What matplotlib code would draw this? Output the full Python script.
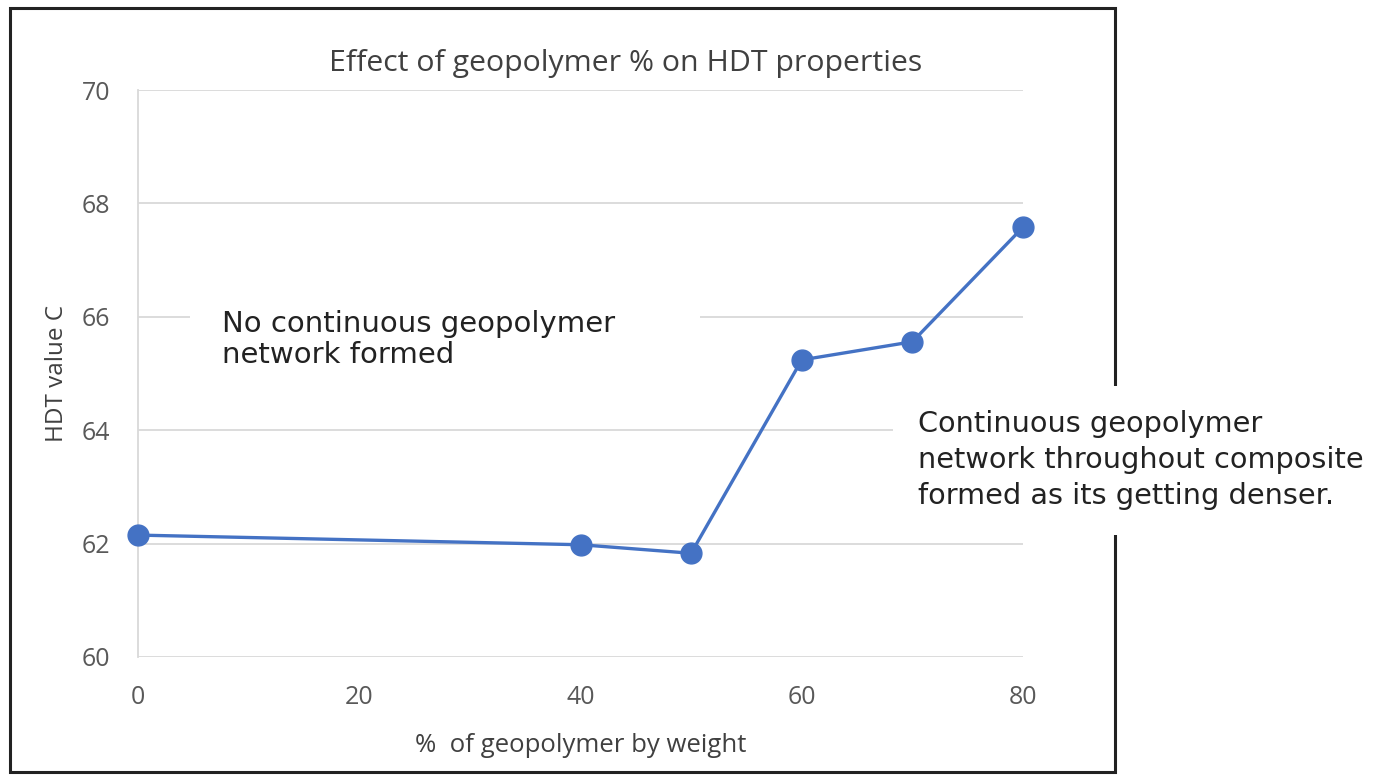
import matplotlib
matplotlib.use("Agg")
import matplotlib.pyplot as plt
from matplotlib.patches import Rectangle

# data
geopolymer_pct = [0, 40, 50, 60, 70, 80]
hdt_value = [62.15, 61.98, 61.83, 65.24, 65.56, 67.58]
x_ticks = [0, 20, 40, 60, 80]
y_ticks = [60, 62, 64, 66, 68, 70]

title = "Effect of geopolymer % on HDT properties"
x_label = "%  of geopolymer by weight"
y_label = "HDT value C"
note_left = "No continuous geopolymer\nnetwork formed"
note_right = ("Continuous geopolymer\nnetwork throughout composite\n"
              "formed as its getting denser.")

BLUE = "#4472C4"
GRID = "#D9D9D9"
TXT = "#595959"
UI_FONT = "Open Sans"
NOTE_FONT = "DejaVu Sans"

fig = plt.figure(figsize=(13.74, 7.79), dpi=100)
W, H = 1374, 779
ax = fig.add_axes([138 / W, 1 - 657 / H, (1023 - 138) / W, (657 - 90) / H])

ax.plot(geopolymer_pct, hdt_value, color=BLUE, lw=2.4, marker="o",
        markersize=15, zorder=3, clip_on=False)

ax.set_xlim(0, 80)
ax.set_ylim(60, 70)
ax.set_xticks(x_ticks)
ax.set_yticks(y_ticks)
ax.grid(axis="y", color=GRID, lw=1.3)
ax.set_axisbelow(True)
for side in ["top", "right", "bottom"]:
    ax.spines[side].set_visible(False)
ax.spines["left"].set_color(GRID)
ax.spines["left"].set_linewidth(1.3)
ax.tick_params(length=0, labelsize=18, labelcolor=TXT)
ax.tick_params(axis="x", pad=20)
ax.tick_params(axis="y", pad=20)
for lab in ax.get_xticklabels() + ax.get_yticklabels():
    lab.set_fontfamily(UI_FONT)

ax.set_title(title, fontsize=21.8, color="#404040", family=UI_FONT, pad=14,
             x=0.551)
ax.set_xlabel(x_label, fontsize=18.5, color="#404040", family=UI_FONT,
              labelpad=17)
ax.set_ylabel(y_label, fontsize=17.5, color="#404040", family=UI_FONT,
              labelpad=9)

# outer frame round the chart
frame = Rectangle((10 / W, 1 - 772 / H), 1105 / W, 764 / H,
                  transform=fig.transFigure, fill=False, ec="#222222",
                  lw=2.2, clip_on=False, zorder=1)
ax.add_patch(frame)

# white box behind the left note (it hides part of the 66 gridline)
ax.add_patch(Rectangle((4.7, 64.6), 46.1, 1.85, fc="white", ec="none",
                       zorder=2))

ax.text(7.6, 65.6, note_left, fontsize=21, family=NOTE_FONT, color="#222222",
        va="center", ha="left", linespacing=1.15, zorder=5, clip_on=False)
ax.text(70.5, 63.47, note_right, fontsize=20.7, family=NOTE_FONT,
        color="#222222", va="center", ha="left", linespacing=1.36, zorder=5,
        clip_on=False,
        bbox=dict(boxstyle="square,pad=0.85", fc="white", ec="none"))

fig.savefig("out.png", dpi=100)
